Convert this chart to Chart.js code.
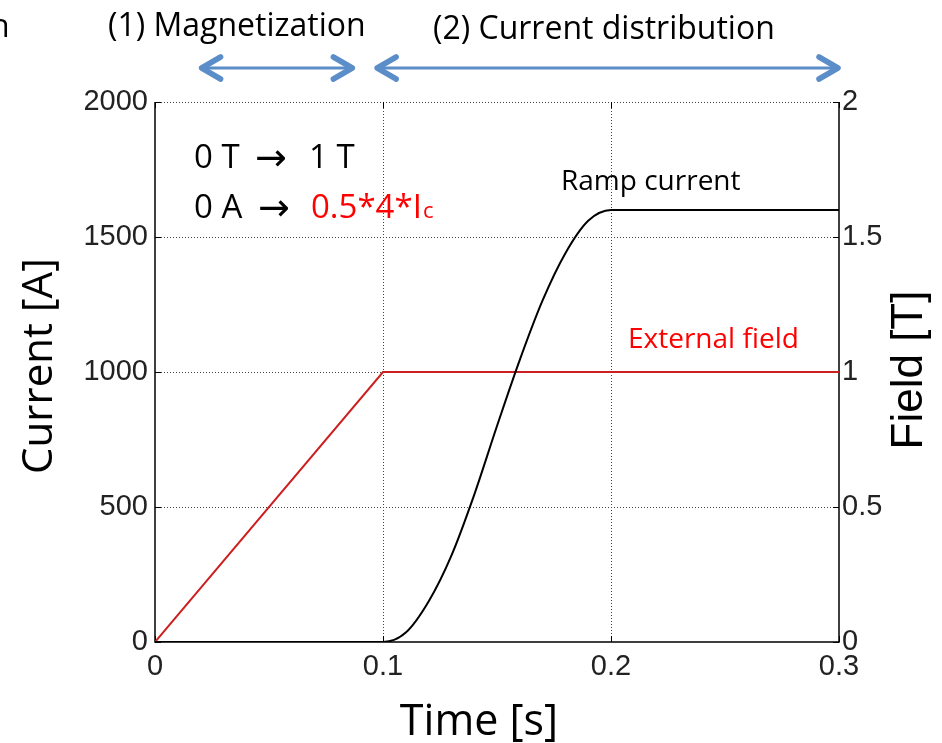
<!DOCTYPE html>
<html>
<head>
<meta charset="utf-8">
<script src="https://cdn.jsdelivr.net/npm/chart.js@4"></script>
<style>
  html, body { margin: 0; padding: 0; background: #fff; }
  #wrap { width: 942px; height: 743px; }
</style>
</head>
<body>
<div id="wrap"><canvas id="ramp-chart" width="942" height="743"></canvas></div>
<script>
// data
var timeSeconds = [0, 0.1, 0.11, 0.12, 0.13, 0.14, 0.15, 0.16, 0.17, 0.18, 0.19, 0.2, 0.3];
var rampCurrentA = [0, 0, 35, 150, 320, 545, 800, 1045, 1265, 1440, 1560, 1600, 1600];
var fieldTime = [0, 0.1, 0.3];
var externalFieldT = [0, 1, 1];
var xTicks = [0, 0.1, 0.2, 0.3];
var currentTicks = [0, 500, 1000, 1500, 2000];
var fieldTicks = [0, 0.5, 1, 1.5, 2];

var TICK_FONT = { family: "'Liberation Sans', Arial, sans-serif", size: 29 };
var SANS = "'Open Sans', sans-serif";
var ARROW_BLUE = '#5b8dc8';

function toPoints(xs, ys) {
    var pts = [];
    for (var i = 0; i < xs.length; i++) {
        pts.push({ x: xs[i], y: ys[i] });
    }
    return pts;
}

function setTicks(list) {
    return function (scale) {
        scale.ticks = list.map(function (v) { return { value: v }; });
    };
}

// ─── FRAME / GRID ────────────────────────────────────────────────────────────
var framePlugin = {
    id: 'frame',
    beforeDatasetsDraw: function (chart) {
        var ctx = chart.ctx, a = chart.chartArea;
        var xs = chart.scales.x, ys = chart.scales.y, fs = chart.scales.y1;
        ctx.save();
        ctx.strokeStyle = '#444';
        ctx.lineWidth = 1;
        ctx.setLineDash([1, 2]);
        xTicks.forEach(function (v) {
            var px = Math.round(xs.getPixelForValue(v)) + 0.5;
            if (v === xTicks[0] || v === xTicks[xTicks.length - 1]) return;
            ctx.beginPath(); ctx.moveTo(px, a.top); ctx.lineTo(px, a.bottom); ctx.stroke();
        });
        currentTicks.forEach(function (v) {
            if (v === 0) return;
            var py = Math.round(ys.getPixelForValue(v)) + 0.5;
            ctx.beginPath(); ctx.moveTo(a.left, py); ctx.lineTo(a.right, py); ctx.stroke();
        });
        ctx.setLineDash([]);
        ctx.strokeStyle = '#000';
        ctx.lineWidth = 1.5;
        ctx.beginPath();
        ctx.moveTo(a.left, a.top); ctx.lineTo(a.left, a.bottom);
        ctx.lineTo(a.right, a.bottom); ctx.lineTo(a.right, a.top);
        ctx.stroke();
        // inward tick marks
        ctx.lineWidth = 1;
        var tl = 6;
        xTicks.forEach(function (v) {
            var px = Math.round(xs.getPixelForValue(v)) + 0.5;
            ctx.beginPath();
            ctx.moveTo(px, a.bottom); ctx.lineTo(px, a.bottom - tl);
            ctx.moveTo(px, a.top); ctx.lineTo(px, a.top + tl);
            ctx.stroke();
        });
        currentTicks.forEach(function (v) {
            var py = Math.round(ys.getPixelForValue(v)) + 0.5;
            ctx.beginPath(); ctx.moveTo(a.left, py); ctx.lineTo(a.left + tl, py); ctx.stroke();
        });
        fieldTicks.forEach(function (v) {
            var py = Math.round(fs.getPixelForValue(v)) + 0.5;
            ctx.beginPath(); ctx.moveTo(a.right, py); ctx.lineTo(a.right - tl, py); ctx.stroke();
        });
        ctx.restore();
    }
};

// ─── ANNOTATIONS ─────────────────────────────────────────────────────────────
function text(ctx, str, x, y, font, color, align) {
    ctx.font = font;
    ctx.fillStyle = color || '#000';
    ctx.textAlign = align || 'left';
    ctx.textBaseline = 'alphabetic';
    ctx.fillText(str, x, y);
}

function doubleArrow(ctx, x1, x2, y) {
    ctx.save();
    ctx.strokeStyle = ARROW_BLUE;
    ctx.lineCap = 'round';
    ctx.lineJoin = 'round';
    ctx.lineWidth = 3;
    ctx.beginPath(); ctx.moveTo(x1 + 2, y); ctx.lineTo(x2 - 2, y); ctx.stroke();
    ctx.lineWidth = 5.5;
    ctx.beginPath();
    ctx.moveTo(x1 + 20, y - 11); ctx.lineTo(x1 + 1, y); ctx.lineTo(x1 + 20, y + 11);
    ctx.moveTo(x2 - 20, y - 11); ctx.lineTo(x2 - 1, y); ctx.lineTo(x2 - 20, y + 11);
    ctx.stroke();
    ctx.restore();
}

var labelPlugin = {
    id: 'labels',
    afterDraw: function (chart) {
        var ctx = chart.ctx;
        var xs = chart.scales.x;
        ctx.save();
        // axis titles
        text(ctx, 'Time [s]', 479, 735, '43px ' + SANS, '#000', 'center');
        ctx.save();
        ctx.translate(40, 366); ctx.rotate(-Math.PI / 2);
        ctx.font = '42px ' + SANS; ctx.fillStyle = '#000';
        ctx.textAlign = 'center'; ctx.textBaseline = 'middle';
        ctx.fillText('Current [A]', 0, 0);
        ctx.restore();
        ctx.save();
        ctx.translate(910, 370); ctx.rotate(-Math.PI / 2);
        ctx.font = "44px 'Liberation Sans', Arial, sans-serif"; ctx.fillStyle = '#000';
        ctx.textAlign = 'center'; ctx.textBaseline = 'middle';
        ctx.fillText('Field [T]', 0, 0);
        ctx.restore();

        // phase headers and arrows
        text(ctx, 'n', -10, 37, '32px ' + SANS);
        text(ctx, '(1) Magnetization', 108, 36, '32px ' + SANS);
        text(ctx, '(2) Current distribution', 433, 39, '32px ' + SANS);
        doubleArrow(ctx, xs.getPixelForValue(0.02), xs.getPixelForValue(0.087), 68);
        doubleArrow(ctx, xs.getPixelForValue(0.097), xs.getPixelForValue(0.3), 68);

        // condition box text
        var f = '33px ' + SANS;
        var arrowFont = "38px 'DejaVu Sans', sans-serif";
        text(ctx, '0 T', 194, 168, f);
        text(ctx, '\u2192', 255, 170, arrowFont);
        text(ctx, '1 T', 309, 168, f);
        text(ctx, '0 A', 194, 218, f);
        text(ctx, '\u2192', 258, 220, arrowFont);
        text(ctx, '0.5*4*I', 311, 218, f, '#ff0000');
        text(ctx, 'c', 423, 218, '22px ' + SANS, '#ff0000');

        // series labels
        text(ctx, 'Ramp current', 561, 190, '28px ' + SANS, '#000');
        text(ctx, 'External field', 628, 348, '28px ' + SANS, '#ff0000');
        ctx.restore();
    }
};

var canvas = document.getElementById('ramp-chart');
var chart = new Chart(canvas.getContext('2d'), {
    type: 'line',
    data: {
        datasets: [
            {
                label: 'Ramp current',
                data: toPoints(timeSeconds, rampCurrentA),
                yAxisID: 'y',
                borderColor: '#000',
                borderWidth: 2,
                pointRadius: 0,
                cubicInterpolationMode: 'monotone',
                fill: false
            },
            {
                label: 'External field',
                data: toPoints(fieldTime, externalFieldT),
                yAxisID: 'y1',
                borderColor: '#cc1f1f',
                borderWidth: 2,
                pointRadius: 0,
                tension: 0,
                fill: false
            }
        ]
    },
    options: {
        responsive: false,
        animation: false,
        events: [],
        layout: { padding: { top: 102, left: 0, right: 0, bottom: 0 } },
        plugins: { legend: { display: false }, tooltip: { enabled: false } },
        scales: {
            x: {
                type: 'linear',
                min: 0, max: 0.3,
                afterBuildTicks: setTicks(xTicks),
                afterFit: function (s) { s.height = 101; },
                grid: { display: false, drawTicks: false },
                border: { display: false },
                ticks: { font: TICK_FONT, color: '#222', padding: 8, maxRotation: 0,
                         callback: function (v) { return String(v); } }
            },
            y: {
                position: 'left',
                min: 0, max: 2000,
                afterBuildTicks: setTicks(currentTicks),
                afterFit: function (s) { s.width = 155; },
                grid: { display: false, drawTicks: false },
                border: { display: false },
                ticks: { font: TICK_FONT, color: '#222', padding: 7,
                         callback: function (v) { return String(v); } }
            },
            y1: {
                position: 'right',
                min: 0, max: 2,
                afterBuildTicks: setTicks(fieldTicks),
                afterFit: function (s) { s.width = 103; },
                grid: { display: false, drawTicks: false },
                border: { display: false },
                ticks: { font: TICK_FONT, color: '#222', padding: 3,
                         callback: function (v) { return String(v); } }
            }
        }
    },
    plugins: [framePlugin, labelPlugin]
});
</script>
</body>
</html>
